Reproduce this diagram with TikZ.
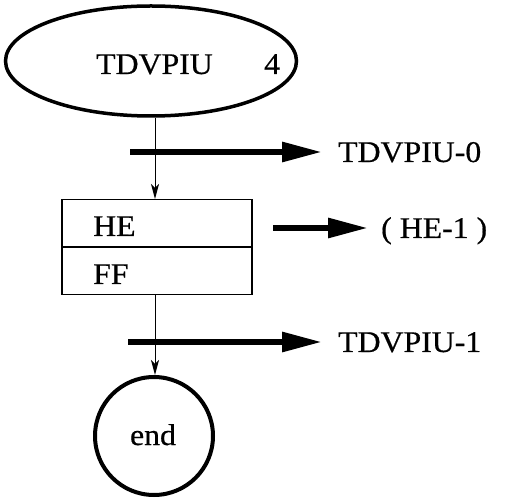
\documentclass[tikz,border=0pt]{standalone}
\usepackage{fontspec}
\setmainfont{Liberation Serif}
\newfontfamily\reffont[FakeBold=0.6,FakeStretch=1.06]{Liberation Serif}
\usetikzlibrary{shapes.geometric,arrows.meta}
\begin{document}
\begin{tikzpicture}[x=1pt,y=-1pt,
  txt/.style={font=\reffont\fontsize{30}{34}\selectfont, inner sep=0pt, anchor=base west},
  thinflow/.style={line width=1pt, -{Stealth[length=15pt,width=8pt,inset=4pt]}},
  thickflow/.style={line width=6pt, -{Triangle[length=40pt,width=19pt]}},
  cell/.style={draw, line width=1.5pt, minimum width=190pt, minimum height=47.5pt, inner sep=0pt, anchor=north west}]
\useasboundingbox (0,0) rectangle (506,502);
% start ellipse
\node[draw, ellipse, line width=3.5pt, minimum width=291pt, minimum height=110pt, inner sep=0pt] (start) at (151,61) {};
\node[txt] (startname) at (96,74) {TDVPIU};
\node[txt] (startnum) at (264,74) {4};
% box
\node[cell] (he) at (61,199) {};
\node[cell] (ff) at (61,246.5) {};
\node[txt] (hetxt) at (93,236) {HE};
\node[txt] (fftxt) at (93,284) {FF};
% end circle
\node[draw, circle, line width=4pt, minimum size=118pt, inner sep=0pt] (endc) at (154,436) {};
\node[txt, anchor=base] (endtxt) at (153,445) {end};
% thin flow
\draw[thinflow] (start.south -| 155,0) -- (he.north -| 155,0);
\draw[thinflow] (ff.south -| 155,0) -- (endc.north -| 155,0);
% thick arrows
\coordinate (a1s) at (130,152); \coordinate (a1e) at (322,152);
\coordinate (a2s) at (273,228); \coordinate (a2e) at (368,228);
\coordinate (a3s) at (128,342); \coordinate (a3e) at (322,342);
\draw[thickflow] (a1s) -- (a1e);
\draw[thickflow] (a2s) -- (a2e);
\draw[thickflow] (a3s) -- (a3e);
\node[txt] (out0) at (338,162) {TDVPIU-0};
\node[txt] (out1) at (381,238) {( HE-1 )};
\node[txt] (out2) at (338,352) {TDVPIU-1};
\end{tikzpicture}
\end{document}
